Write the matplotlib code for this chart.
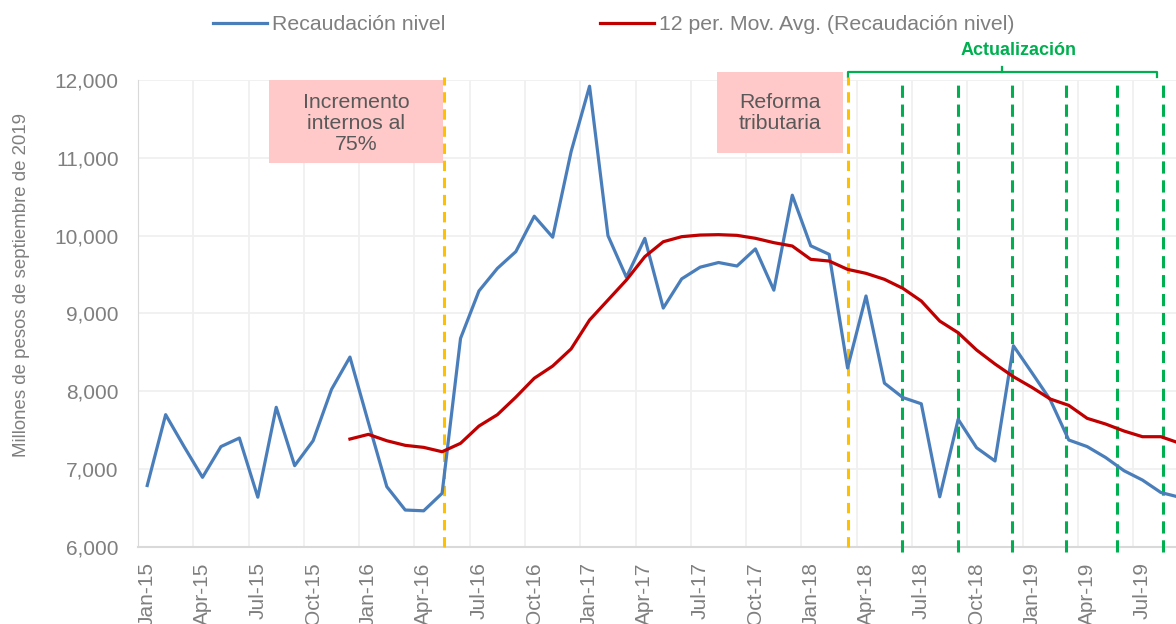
import matplotlib

matplotlib.use("Agg")
import matplotlib.pyplot as plt
import pandas as pd
from matplotlib.patches import Rectangle
from matplotlib.ticker import FuncFormatter, MultipleLocator

plt.rcParams["font.family"] = ["Liberation Sans", "DejaVu Sans"]

# monthly collection level, Jan-15 .. Sep-19 (millones de pesos sep-2019)
months = pd.date_range("2015-01-01", periods=57, freq="MS").strftime("%b-%y").tolist()
recaudacion = [
    6790, 7700, 7290, 6895, 7290, 7400, 6640, 7795, 7045, 7365, 8025, 8440,
    7600, 6775, 6475, 6465, 6690, 8680, 9290, 9580, 9795, 10250, 9980, 11080,
    11920, 10000, 9465, 9965, 9070, 9445, 9595, 9655, 9610, 9830, 9300, 10520,
    9870, 9760, 8300, 9225, 8105, 7920, 7840, 6645, 7640, 7275, 7105, 8585,
    8240, 7890, 7375, 7290, 7150, 6980, 6860, 6700, 6640,
]
# 12 per. moving average as drawn (starts Dec-15)
media_movil_start = 11
media_movil = [
    7387, 7447, 7365, 7306, 7280, 7224, 7332, 7554, 7700, 7925, 8168, 8325,
    8545, 8916, 9173, 9430, 9730, 9922, 9987, 10008, 10013, 10004, 9966, 9910,
    9867, 9696, 9674, 9567, 9516, 9439, 9323, 9160, 8903, 8753, 8531, 8351,
    8188, 8051, 7901, 7820, 7653, 7580, 7490, 7417, 7417, 7335,
]

reform_lines = [16.1, 38.0]
update_lines = [40.94, 44.01, 46.94, 49.87, 52.60, 55.13]

BLUE = "#4A7EBB"
RED = "#C00000"
ORANGE = "#FFC000"
GREEN = "#00B050"
PINK = "#FFC9C9"
GRAY = "#7F7F7F"
DARK = "#595959"

fig = plt.figure(figsize=(11.76, 6.24), dpi=100)
ax = fig.add_axes([0.11735, 0.1234, 0.88265, 0.7484])

x = list(range(len(recaudacion)))
x_ma = list(range(media_movil_start, media_movil_start + len(media_movil)))

ax.plot(x, recaudacion, color=BLUE, lw=2.3, label="Recaudación nivel", zorder=4)
ax.plot(x_ma, media_movil, color=RED, lw=2.3,
        label="12 per. Mov. Avg. (Recaudación nivel)", zorder=4)

ax.vlines(reform_lines, 6000, 12040, colors=ORANGE, lw=2.2,
          linestyles=(0, (3.4, 2.2)), clip_on=False, zorder=3)
ax.vlines(update_lines, 5940, 11975, colors=GREEN, lw=2.2,
          linestyles=(0, (4.0, 2.2)), clip_on=False, zorder=3)

# annotation boxes
ax.add_patch(Rectangle((6.62, 10934), 16.06 - 6.62, 12000 - 10934,
                       facecolor=PINK, edgecolor="none", zorder=2))
ax.text(11.34, 11441, "Incremento\ninternos al\n75%", ha="center", va="center",
        fontsize=15.3, color=DARK, linespacing=1.12, zorder=5)
ax.add_patch(Rectangle((30.92, 11062), 37.76 - 30.92, 12103 - 11062,
                       facecolor=PINK, edgecolor="none", zorder=2, clip_on=False))
ax.text(34.33, 11572, "Reforma\ntributaria", ha="center", va="center",
        fontsize=15.3, color=DARK, linespacing=1.12, zorder=5)

# bracket over the update period
ax.plot([38.05, 38.05, 54.77, 54.77], [12042, 12099, 12099, 12042],
        color=GREEN, lw=1.6, clip_on=False, solid_joinstyle="round")
ax.plot([46.38, 46.38], [12099, 12171], color=GREEN, lw=1.6, clip_on=False)
ax.text(47.25, 12373, "Actualización", ha="center", va="center",
        fontsize=13, fontweight="bold", color=GREEN)

ax.set_xlim(-0.5, 55.82)
ax.set_ylim(6000, 12000)
ax.set_xticks(x[::3])
ax.set_xticklabels(months[::3], rotation=90, fontsize=15, color=GRAY)
ax.xaxis.set_minor_locator(MultipleLocator(3, offset=2.5))
ax.set_yticks(range(6000, 12001, 1000))
ax.yaxis.set_major_formatter(FuncFormatter(lambda v, _: f"{v:,.0f}"))
ax.tick_params(axis="y", labelsize=15, labelcolor=GRAY, length=0, pad=14)
ax.tick_params(axis="x", which="both", length=0, pad=11)

ax.grid(axis="y", which="major", color="#F0F0F0", lw=1.3, zorder=0)
ax.grid(axis="x", which="minor", color="#F0F0F0", lw=1.3, zorder=0)
ax.set_axisbelow(True)
for side in ("top", "right"):
    ax.spines[side].set_visible(False)
ax.spines["left"].set_color("#D9D9D9")
ax.spines["bottom"].set_color("#D9D9D9")
ax.spines["bottom"].set_linewidth(1.5)

fig.text(0.0187, 0.5425, "Millones de pesos de septiembre de 2019", rotation=90,
         ha="center", va="center", fontsize=13.4, color=GRAY)

leg = ax.legend(ncol=2, loc="center left", bbox_to_anchor=(213 / 1176, 1 - 25 / 624),
                bbox_transform=fig.transFigure, frameon=False, fontsize=15.3,
                handlelength=2.55, handletextpad=0.24, columnspacing=7.25,
                borderpad=0, borderaxespad=0)
for t in leg.get_texts():
    t.set_color(GRAY)

fig.savefig("out.png", dpi=100)
